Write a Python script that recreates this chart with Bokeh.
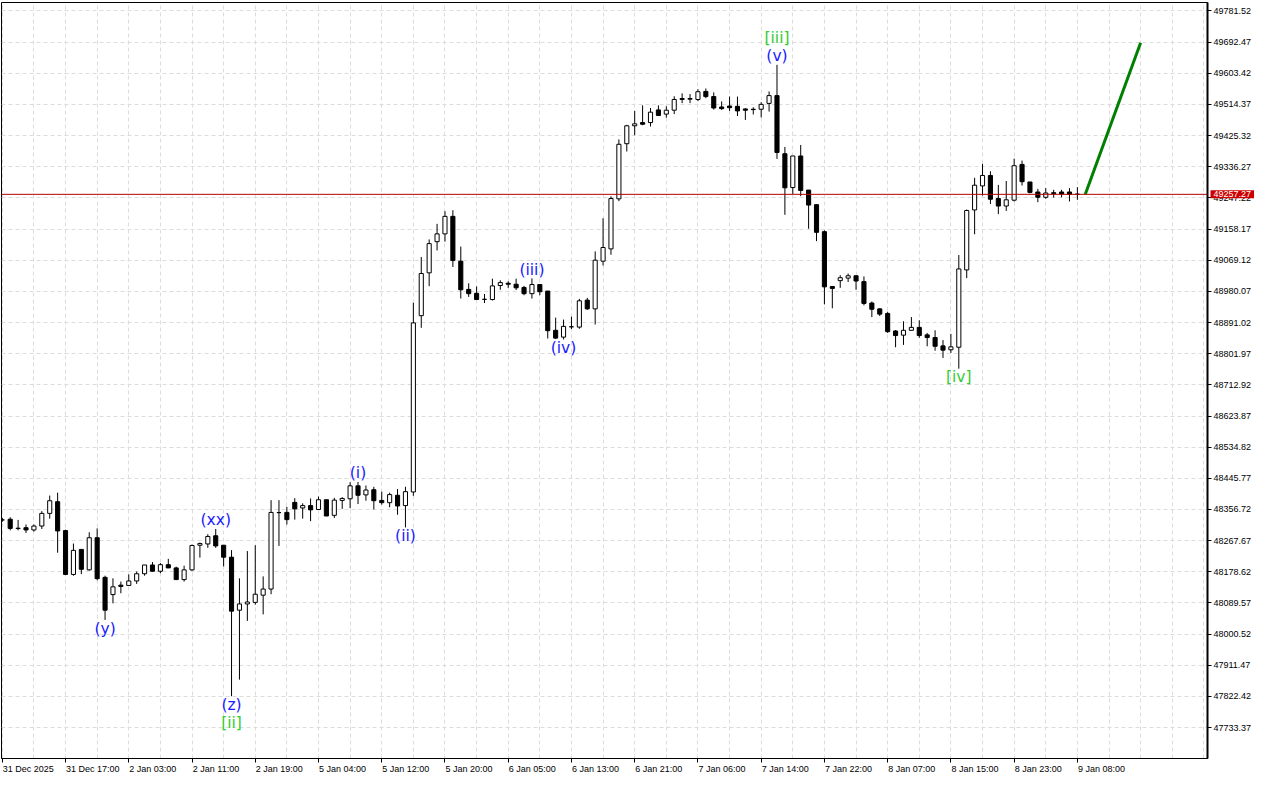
from bokeh.plotting import figure
from bokeh.models import FixedTicker, Span, Label, PrintfTickFormatter, ColumnDataSource, Range1d
from bokeh.core.properties import value
from bokeh.embed import file_html
from bokeh.resources import INLINE

# ---------------- data (hourly candles, bar index -1 .. 135) ----------------
first_bar = -1

opens = [
    48326.95, 48328.90, 48303.30, 48304.69, 48298.29, 48309.42, 48345.60, 48378.99, 48296.34, 48171.12,
    48242.64, 48184.20, 48276.03, 48162.77, 48113.51, 48140.51, 48139.67, 48152.47, 48173.07, 48198.11,
    48180.30, 48198.95, 48189.76, 48156.37, 48184.20, 48254.60, 48258.22, 48281.60, 48254.60, 48220.37,
    48068.99, 48086.80, 48091.25, 48111.84, 48129.38, 48347.83, 48348.38, 48377.05, 48361.18, 48367.86,
    48356.73, 48384.56, 48340.03, 48382.61, 48387.34, 48424.35, 48398.47, 48413.22, 48382.61, 48376.21,
    48397.36, 48367.86, 48406.82, 48910.51, 49032.95, 49122.00, 49144.26, 49194.35, 49066.34, 48985.64,
    48974.51, 48957.26, 48956.70, 48996.77, 49003.18, 49000.39, 48991.21, 48973.40, 48999.56, 48980.91,
    48868.77, 48849.29, 48878.78, 48877.95, 48955.03, 48929.99, 49066.34, 49101.41, 49244.44, 49401.95,
    49453.15, 49462.34, 49462.34, 49498.51, 49486.55, 49497.68, 49528.29, 49529.12, 49528.29, 49551.39,
    49536.64, 49506.86, 49509.64, 49508.81, 49501.30, 49500.46, 49500.46, 49517.16, 49539.42, 49373.29,
    49276.72, 49366.89, 49269.49, 49227.75, 49150.66, 48993.99, 49010.69, 49017.92, 49024.60, 49007.91,
    48946.68, 48929.99, 48916.91, 48866.82, 48854.85, 48868.77, 48877.11, 48855.69, 48848.13, 48824.24,
    48813.11, 48820.35, 49041.30, 49212.72, 49281.46, 49311.23, 49245.28, 49223.85, 49240.55, 49342.68,
    49292.59, 49263.92, 49248.90, 49261.98, 49263.92, 49263.92, 49257.80,
]
highs = [
    48332.52, 48334.47, 48326.95, 48313.88, 48313.88, 48352.00, 48396.52, 48404.87, 48299.13, 48259.33,
    48242.64, 48291.61, 48302.74, 48167.50, 48159.99, 48150.80, 48171.12, 48179.47, 48198.11, 48206.46,
    48203.68, 48215.64, 48193.38, 48196.16, 48256.55, 48262.12, 48286.05, 48301.07, 48254.60, 48240.69,
    48159.99, 48237.91, 48254.60, 48165.55, 48383.45, 48383.45, 48363.97, 48389.01, 48374.26, 48388.18,
    48393.74, 48384.56, 48390.12, 48391.79, 48434.65, 48435.48, 48425.19, 48421.57, 48407.66, 48404.87,
    48415.17, 48421.57, 48947.52, 49078.31, 49128.40, 49172.93, 49209.10, 49211.89, 49108.09, 49003.18,
    48993.99, 48972.56, 49016.25, 49011.52, 49008.74, 49016.25, 48995.66, 49017.09, 48999.56, 48980.91,
    48904.94, 48899.38, 48907.73, 48958.65, 48961.43, 49094.17, 49188.79, 49251.68, 49414.19, 49455.94,
    49495.73, 49511.59, 49504.08, 49511.59, 49508.81, 49537.47, 49545.82, 49543.87, 49557.79, 49559.74,
    49548.60, 49522.72, 49536.64, 49536.64, 49503.24, 49506.03, 49520.78, 49551.39, 49627.36, 49392.77,
    49366.89, 49398.33, 49269.49, 49227.75, 49154.28, 48993.99, 49026.27, 49031.00, 49024.60, 49022.65,
    48951.14, 48931.66, 48921.64, 48869.60, 48894.65, 48906.61, 48897.43, 48861.25, 48868.77, 48840.94,
    48858.47, 49083.88, 49213.83, 49304.55, 49344.62, 49323.20, 49284.24, 49295.37, 49359.37, 49353.81,
    49292.59, 49273.11, 49275.05, 49270.32, 49270.32, 49275.05, 49277.84,
]
lows = [
    48321.39, 48297.18, 48297.18, 48289.94, 48293.56, 48301.07, 48330.57, 48233.17, 48169.17, 48167.50,
    48171.95, 48182.25, 48154.42, 48041.16, 48088.47, 48117.41, 48139.67, 48144.12, 48167.50, 48178.63,
    48174.74, 48189.76, 48156.37, 48150.80, 48181.41, 48219.26, 48247.09, 48247.09, 48194.22, 47823.27,
    47870.58, 48038.38, 48084.85, 48057.02, 48114.63, 48252.65, 48313.88, 48327.79, 48330.57, 48323.34,
    48356.73, 48338.09, 48332.52, 48358.40, 48360.35, 48372.31, 48381.78, 48356.73, 48370.64, 48363.13,
    48341.70, 48305.53, 48395.69, 48876.00, 48994.83, 49096.96, 49122.00, 49049.65, 48959.49, 48964.22,
    48956.70, 48946.68, 48953.92, 48984.53, 48990.10, 48983.70, 48968.95, 48959.49, 48968.95, 48845.39,
    48843.72, 48842.61, 48872.38, 48873.22, 48927.20, 48885.46, 49054.10, 49084.71, 49237.77, 49379.69,
    49426.16, 49454.82, 49451.21, 49480.98, 49476.25, 49486.55, 49517.99, 49517.99, 49523.56, 49531.91,
    49499.35, 49498.51, 49495.73, 49480.98, 49469.85, 49485.43, 49477.09, 49493.78, 49358.54, 49198.81,
    49258.36, 49252.24, 49159.01, 49123.67, 48942.79, 48931.66, 48990.10, 49006.79, 48984.53, 48940.01,
    48906.61, 48909.39, 48861.25, 48820.35, 48827.02, 48868.77, 48847.34, 48823.13, 48810.33, 48789.73,
    48803.65, 48759.12, 49017.92, 49143.15, 49253.63, 49229.42, 49200.75, 49209.94, 49236.93, 49282.29,
    49260.03, 49234.98, 49244.44, 49248.06, 49248.90, 49236.93, 49241.66,
]
closes = [
    48326.95, 48302.74, 48302.19, 48298.29, 48309.42, 48345.60, 48381.78, 48295.51, 48171.12, 48239.85,
    48185.87, 48276.03, 48159.15, 48068.99, 48135.78, 48136.89, 48152.47, 48173.07, 48198.11, 48180.30,
    48198.95, 48189.76, 48156.37, 48184.20, 48253.77, 48259.33, 48279.65, 48252.65, 48220.37, 48066.21,
    48086.80, 48092.36, 48114.63, 48129.38, 48348.38, 48347.83, 48327.79, 48358.40, 48367.86, 48355.62,
    48384.56, 48338.09, 48383.45, 48388.18, 48424.35, 48397.36, 48412.39, 48381.78, 48376.21, 48399.31,
    48366.75, 48407.66, 48889.92, 49031.00, 49116.44, 49144.26, 49194.35, 49068.01, 48984.53, 48973.40,
    48956.70, 48957.26, 48995.66, 49005.12, 49000.39, 48990.10, 48973.40, 48999.56, 48978.96, 48867.65,
    48846.50, 48879.90, 48878.78, 48953.08, 48929.99, 49069.13, 49105.30, 49245.28, 49400.28, 49453.15,
    49458.72, 49457.61, 49492.11, 49482.65, 49497.68, 49528.29, 49531.07, 49531.07, 49550.55, 49536.64,
    49504.08, 49502.13, 49504.91, 49495.73, 49497.68, 49499.35, 49514.38, 49539.42, 49376.91, 49275.89,
    49366.89, 49268.38, 49226.63, 49148.72, 48992.88, 48988.43, 49019.04, 49024.60, 49009.58, 48945.57,
    48928.87, 48914.96, 48864.87, 48853.74, 48868.77, 48877.11, 48853.74, 48848.13, 48823.13, 48812.00,
    48821.46, 49044.08, 49211.05, 49283.40, 49311.23, 49243.33, 49223.85, 49241.66, 49339.06, 49293.42,
    49262.81, 49248.90, 49261.14, 49259.19, 49258.36, 49257.24, 49257.27,
]

time_labels = ["31 Dec 2025", "31 Dec 17:00", "2 Jan 03:00", "2 Jan 11:00", "2 Jan 19:00",
               "5 Jan 04:00", "5 Jan 12:00", "5 Jan 20:00", "6 Jan 05:00", "6 Jan 13:00",
               "6 Jan 21:00", "7 Jan 06:00", "7 Jan 14:00", "7 Jan 22:00", "8 Jan 07:00",
               "8 Jan 15:00", "8 Jan 23:00", "9 Jan 08:00"]
time_label_bars = [-1, 7, 15, 23, 31, 39, 47, 55, 63, 71, 79, 87, 95, 103, 111, 119, 127, 135]

price_ticks = [49781.52, 49692.47, 49603.42, 49514.37, 49425.32, 49336.27, 49247.22, 49158.17,
               49069.12, 48980.07, 48891.02, 48801.97, 48712.92, 48623.87, 48534.82, 48445.77,
               48356.72, 48267.67, 48178.62, 48089.57, 48000.52, 47911.47, 47822.42, 47733.37]

bid_price = 49257.27
forecast_bars = [136, 143]
forecast_prices = [49257.27, 49690.50]

wave_texts = ["(y)", "(xx)", "(z)", "[ii]", "(i)", "(ii)", "(iii)", "(iv)", "[iii]", "(v)", "[iv]"]
wave_bars = [12, 26, 28, 28, 44, 50, 66, 70, 97, 97, 120]
wave_at = ["low", "high", "low", "low", "high", "low", "high", "low", "high", "high", "low"]
wave_row = [1, 1, 1, 2, 1, 1, 1, 1, 2, 1, 1]
wave_degree = ["minor", "minor", "minor", "major", "minor", "minor", "minor", "minor", "major", "minor", "major"]

# ---------------- layout ----------------
W, H = 1264, 784
B_LEFT, B_RIGHT, B_TOP, B_BOTTOM = 1, 57, 2, 21
X0, X1 = -1.1, 151.46
Y0, Y1 = 47645.17, 49805.46
frame_w = W - B_LEFT - B_RIGHT
px_per_bar = frame_w / (X1 - X0)

p = figure(width=W, height=H, x_range=Range1d(X0, X1), y_range=Range1d(Y0, Y1),
           output_backend="svg", toolbar_location=None, y_axis_location="right",
           min_border_left=B_LEFT, min_border_right=B_RIGHT, min_border_top=B_TOP,
           min_border_bottom=B_BOTTOM, background_fill_color="white",
           border_fill_color="white", outline_line_color="black", outline_line_width=1)

# grid
p.xgrid.ticker = FixedTicker(ticks=list(range(-1, 153, 4)))
p.ygrid.ticker = FixedTicker(ticks=price_ticks)
for g in (p.xgrid[0], p.ygrid[0]):
    g.grid_line_color = "#dcdcdc"
    g.grid_line_dash = "4 3"
    g.grid_line_width = 1

# right price axis
ya = p.yaxis[0]
ya.ticker = FixedTicker(ticks=price_ticks, minor_ticks=[])
ya.formatter = PrintfTickFormatter(format="%.2f")
ya.major_tick_out = 4
ya.major_tick_in = 0
ya.minor_tick_out = 0
ya.minor_tick_in = 0
ya.axis_line_width = 2
ya.axis_line_color = "black"
ya.major_tick_line_color = "black"
ya.major_label_standoff = 2
ya.major_label_text_font = "Liberation Sans"
ya.major_label_text_font_size = "9px"
ya.major_label_text_color = "black"

# bottom time axis: label text starts at the tick (left aligned, MT style)
char_w = {" ": 0.278, ":": 0.278, "J": 0.5, "D": 0.722, "c": 0.5, "e": 0.556, "a": 0.556, "n": 0.556}
label_centers = []
overrides = {}
for bar, txt in zip(time_label_bars, time_labels):
    w = sum(char_w.get(ch, 0.556) for ch in txt) * 9.0
    cx = round(bar + (w / 2.0 + 0.5) / px_per_bar, 4)
    label_centers.append(cx)
    overrides[cx] = txt
xa = p.xaxis[0]
xa.ticker = FixedTicker(ticks=label_centers, minor_ticks=time_label_bars)
xa.major_label_overrides = overrides
xa.major_tick_out = 0
xa.major_tick_in = 0
xa.minor_tick_out = 4
xa.minor_tick_in = 0
xa.minor_tick_line_color = "black"
xa.axis_line_color = "black"
xa.major_label_standoff = 1
xa.major_label_text_font = "Liberation Sans"
xa.major_label_text_font_size = "9px"
xa.major_label_text_color = "black"

# ---------------- candles ----------------
n = len(opens)
bars = list(range(first_bar, first_bar + n))
src = ColumnDataSource(dict(
    x=bars, o=opens, h=highs, l=lows, c=closes,
    top=[max(o, c) for o, c in zip(opens, closes)],
    bottom=[min(o, c) for o, c in zip(opens, closes)],
    fill=["white" if c >= o else "black" for o, c in zip(opens, closes)],
))
p.segment(x0="x", y0="h", x1="x", y1="l", source=src, line_color="black", line_width=1)
p.vbar(x="x", width=0.52, top="top", bottom="bottom", source=src,
       fill_color="fill", line_color="black", line_width=1)

# bid line
p.add_layout(Span(location=bid_price, dimension="width", line_color="#b40000", line_width=1))

# forecast line
p.line(forecast_bars, forecast_prices, line_color="#008000", line_width=3)

# wave labels
wx, wy, woff, wcol = [], [], [], []
for b, at, row, deg in zip(wave_bars, wave_at, wave_row, wave_degree):
    k = b - first_bar
    wx.append(b)
    wy.append(highs[k] if at == "high" else lows[k])
    d = 8.6 if row == 1 else 27.3
    woff.append(-d if at == "high" else d)
    wcol.append("#1a1aff" if deg == "minor" else "#33cc33")
wsrc = ColumnDataSource(dict(x=wx, y=wy, t=wave_texts, off=woff, col=wcol))
p.text(x="x", y="y", text="t", y_offset="off", text_color="col", source=wsrc,
       text_font=value("DejaVu Sans"), text_font_size="15.5px",
       text_align="center", text_baseline="middle")

# bid price label on the axis (in a side panel so it is not clipped to the frame;
# the bottom panel costs the least room). Drawn at overlay level, above the axis labels.
p.add_layout(Label(x=X1 + 3.0 / px_per_bar, y=bid_price, text=f"{bid_price:.2f}",
                   text_color="white", text_font="Liberation Sans", text_font_size="9px",
                   text_align="left", text_baseline="middle", level="overlay",
                   background_fill_color="#cc0000", background_fill_alpha=1.0,
                   padding=(3, 1)), "below")

open("out.html", "w").write(file_html(p, INLINE))
